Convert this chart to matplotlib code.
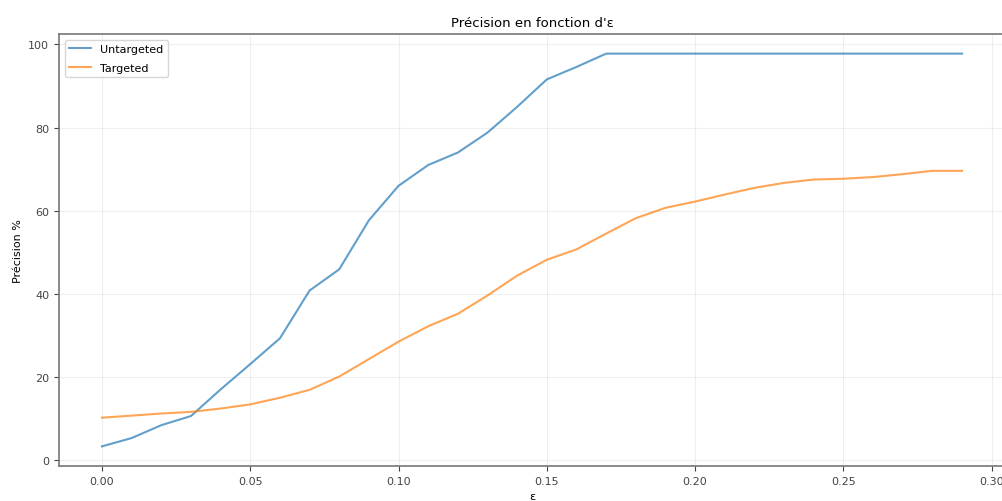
import numpy as np
import matplotlib
matplotlib.use("Agg")
import matplotlib.pyplot as plt

# epsilon values
eps = [0.00, 0.01, 0.02, 0.03, 0.04, 0.05, 0.06, 0.07, 0.08, 0.09,
       0.10, 0.11, 0.12, 0.13, 0.14, 0.15, 0.16, 0.17, 0.18, 0.19,
       0.20, 0.21, 0.22, 0.23, 0.24, 0.25, 0.26, 0.27, 0.28, 0.29]

# success rate of the attack (%)
untargeted = [3.3, 5.3, 8.4, 10.6, 17.0, 23.1, 29.3, 40.8, 45.9, 57.7,
              66.0, 71.0, 74.0, 78.8, 85.0, 91.6, 94.6, 97.8, 97.8, 97.8,
              97.8, 97.8, 97.8, 97.8, 97.8, 97.8, 97.8, 97.8, 97.8, 97.8]
targeted = [10.2, 10.7, 11.2, 11.6, 12.4, 13.4, 15.0, 16.9, 20.1, 24.3,
            28.5, 32.2, 35.2, 39.6, 44.4, 48.2, 50.7, 54.5, 58.2, 60.7,
            62.2, 63.9, 65.5, 66.7, 67.5, 67.7, 68.1, 68.8, 69.6, 69.6]

fs = 8.0

fig = plt.figure(figsize=(10.03, 5.02), dpi=100)
# axes runs slightly past the right edge, like the cropped original
ax = fig.add_axes([59 / 1003, (502 - 467) / 502, (1005 - 59) / 1003, (467 - 35) / 502])

ax.plot(eps, untargeted, label="Untargeted", color="#1f77b4", linewidth=1.5, alpha=0.7)
ax.plot(eps, targeted, label="Targeted", color="#ff7f0e", linewidth=1.5, alpha=0.7)

ax.set_title("Précision en fonction d'ε", fontsize=9.5)
ax.set_xlabel("ε", fontsize=fs)
ax.set_ylabel("Précision %", fontsize=fs)
ax.tick_params(labelsize=fs, colors="#444444")
ax.grid(True, alpha=0.2)
for s in ax.spines.values():
    s.set_color("#777777")
    s.set_linewidth(1.2)
ax.legend(loc="upper left", fontsize=fs, labelspacing=0.8)

fig.savefig("out.png", dpi=100)
